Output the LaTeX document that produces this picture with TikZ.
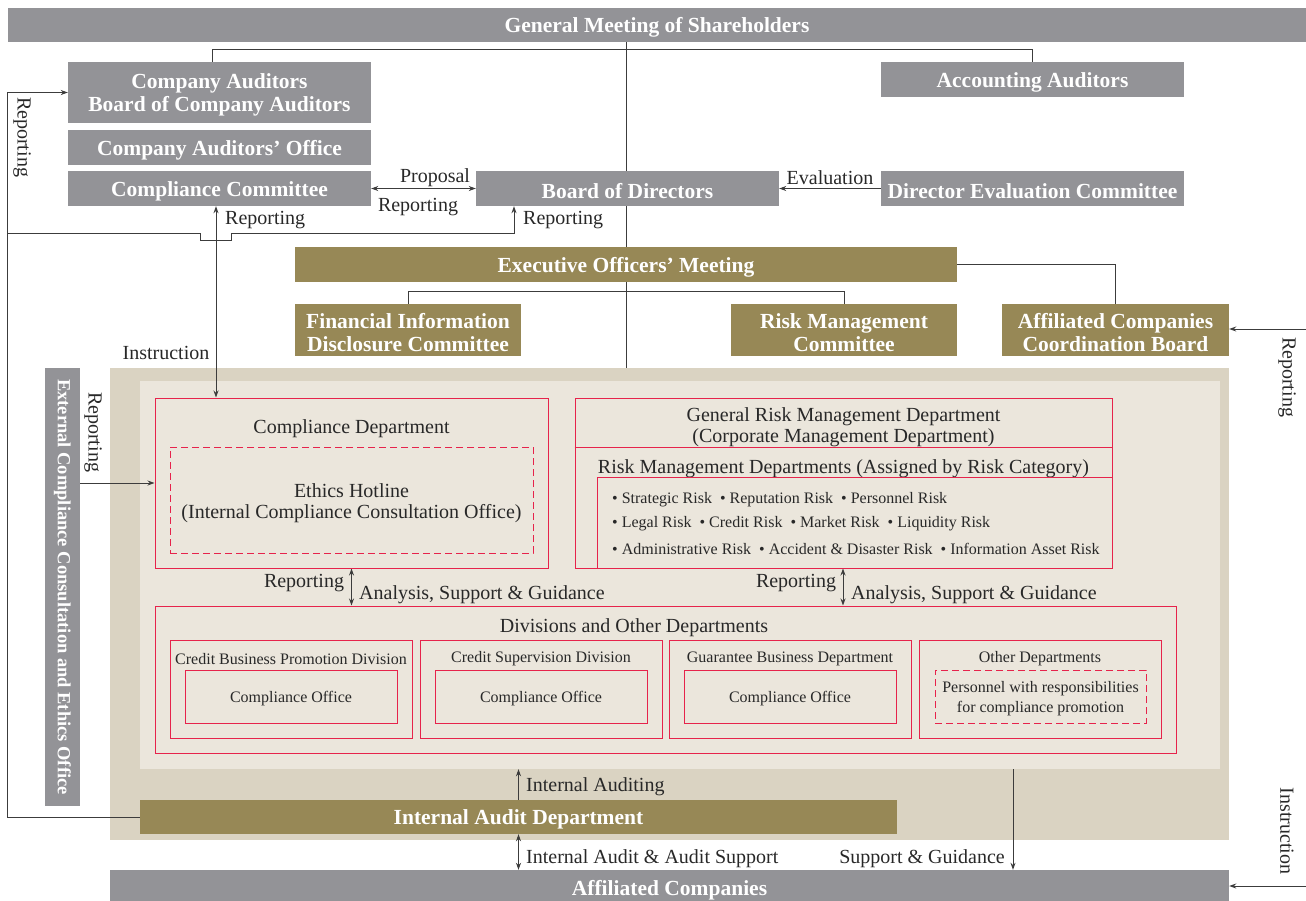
\documentclass[tikz,border=0pt]{standalone}
\usepackage{fontspec}
\setmainfont{Liberation Serif}
\usetikzlibrary{arrows.meta,calc}
\pgfdeclarelayer{back}\pgfdeclarelayer{mid}
\pgfsetlayers{back,mid,main}
\definecolor{boxgray}{RGB}{147,147,151}
\definecolor{olive}{RGB}{151,136,86}
\definecolor{beigeO}{RGB}{218,211,194}
\definecolor{beigeI}{RGB}{235,230,220}
\definecolor{pinkred}{RGB}{230,35,75}
\definecolor{linec}{RGB}{60,60,60}
\definecolor{txt}{RGB}{40,40,40}
\tikzset{
  >={Stealth[length=7pt,width=5pt]},
  gbox/.style={fill=boxgray,text=white,inner sep=0pt,align=center,font=\fontsize{21.5}{23}\selectfont\bfseries},
  obox/.style={gbox,fill=olive},
  rbox/.style={draw=pinkred,line width=1pt,inner sep=0pt},
  dbox/.style={rbox,dash pattern=on 7pt off 4pt},
  areaO/.style={fill=beigeO,inner sep=0pt},
  areaI/.style={fill=beigeI,inner sep=0pt},
  lblr/.style={font=\fontsize{20}{21}\selectfont,text=txt,inner sep=0pt,align=center},
  lbl/.style={lblr,yshift=-2.5pt},
  sml/.style={font=\fontsize{16}{20.5}\selectfont,text=txt,inner sep=0pt,align=center,yshift=-2pt},
  conn/.style={draw=linec,line width=0.9pt},
}
% box node (named) plus its text, set slightly lower as in the reference
\newcommand\bx[7]{%
  \node[#1,minimum width={#5-#3},minimum height={#6-#4}] (#2) at ({(#3+#5)/2},{(#4+#6)/2}) {};
  \node[#1,fill=none,draw=none,yshift=-2.5pt] at (#2.center) {#7};}
\begin{document}
\begin{tikzpicture}[x=1pt,y=-1pt]
\useasboundingbox (0,0) rectangle (1306,900);
% background areas
\begin{pgfonlayer}{back}
\bx{areaO}{outer}{110}{368}{1229}{840}{}
\bx{areaI}{inner}{140}{381}{1220}{769}{}
\end{pgfonlayer}
% top boxes
\bx{gbox}{gms}{8}{8}{1306}{42}{General Meeting of Shareholders}
\bx{gbox}{ca}{68}{62}{371}{123}{Company Auditors\\Board of Company Auditors}
\bx{gbox}{cao}{68}{130}{371}{165}{Company Auditors’ Office}
\bx{gbox}{cc}{68}{171}{371}{206}{Compliance Committee}
\bx{gbox}{aa}{881}{62}{1184}{97}{Accounting Auditors}
\bx{gbox}{bod}{476}{171}{779}{206}{Board of Directors}
\bx{gbox}{dec}{881}{171}{1184}{206}{Director Evaluation Committee}
\bx{obox}{eom}{295}{247}{957}{282}{Executive Officers’ Meeting}
\bx{obox}{fidc}{295}{304}{521}{356}{Financial Information\\Disclosure Committee}
\bx{obox}{rmc}{731}{304}{957}{356}{Risk Management\\Committee}
\bx{obox}{accb}{1002}{304}{1229}{356}{Affiliated Companies\\Coordination Board}
\node[gbox,font=\fontsize{18.5}{21}\selectfont\bfseries,rotate=-90,minimum width=438,minimum height=35] (ext) at (62.5,587) {External Compliance Consultation and Ethics Office};
% compliance department
\bx{rbox}{cd}{155}{398}{548}{568}{}
\node[lbl] (cdt) at (351.5,426) {Compliance Department};
\bx{dbox}{hot}{170}{447}{533}{553}{}
\node[lbl] (hott) at (351.5,501) {Ethics Hotline\\(Internal Compliance Consultation Office)};
% risk management
\bx{rbox}{grm}{575}{398}{1112}{568}{}
\draw[draw=pinkred,line width=1pt] (grm.west |- 0,447) -- (grm.east |- 0,447);
\node[lbl] (grmt) at (843.5,425) {General Risk Management Department\\(Corporate Management Department)};
\node[lbl] (rmdt) at (843.5,466) {Risk Management Departments (Assigned by Risk Category)};
\bx{rbox}{risks}{597}{477}{1112}{568}{}
\node[sml,anchor=west] (r1) at (612,498) {• Strategic Risk\ \ • Reputation Risk\ \ • Personnel Risk};
\node[sml,anchor=west] (r2) at (612,522) {• Legal Risk\ \ • Credit Risk\ \ • Market Risk\ \ • Liquidity Risk};
\node[sml,anchor=west] (r3) at (612,547) {• Administrative Risk\ \ • Accident \& Disaster Risk\ \ • Information Asset Risk};
% divisions
\bx{rbox}{div}{155}{606}{1176}{753}{}
\node[lbl] (divt) at (634,625) {Divisions and Other Departments};
\bx{rbox}{s1}{170}{640}{412}{738}{}
\bx{rbox}{s2}{420}{640}{662}{738}{}
\bx{rbox}{s3}{669}{640}{911}{738}{}
\bx{rbox}{s4}{919}{640}{1161}{738}{}
\node[sml] (s1t) at (291,657) {Credit Business Promotion Division};
\node[sml] (s2t) at (541,657) {Credit Supervision Division};
\node[sml] (s3t) at (790,657) {Guarantee Business Department};
\node[sml] (s4t) at (1040,657) {Other Departments};
\bx{rbox}{o1}{185}{670}{397}{723}{}
\bx{rbox}{o2}{435}{670}{647}{723}{}
\bx{rbox}{o3}{684}{670}{896}{723}{}
\bx{dbox}{o4}{935}{670}{1146}{723}{}
\node[sml] at (o1.center) {Compliance Office};
\node[sml] at (o2.center) {Compliance Office};
\node[sml] at (o3.center) {Compliance Office};
\node[sml] at (o4.center) {Personnel with responsibilities\\for compliance promotion};
% audit and affiliated
\bx{obox}{iad}{140}{800}{897}{834}{Internal Audit Department}
\bx{gbox}{ac}{110}{870}{1229}{906}{Affiliated Companies}
% coordinates
\coordinate (L1) at (8,233);
\coordinate (ix) at (216,0);
\coordinate (otop) at (626,368);
\coordinate (rr) at (1306,329);
\coordinate (ir) at (1306,886);
\coordinate (er) at (80,483);
\coordinate (sg) at (1013,769);
% connectors
\begin{pgfonlayer}{mid}
\draw[conn] (gms.south -| otop) -- (otop);
\draw[conn] ([xshift=-7.5pt]ca.north) -- ++(0,-12) -| (aa.north);
\draw[conn,<->] (cc.east) -- (bod.west);
\draw[conn,->] (dec.west) -- (bod.east);
\draw[conn,->] (iad.west) -| ($(ca.west)+(-60,0)$) -- (ca.west);
\draw[conn,->] (L1) -- (200,233) -- (200,240) -- (231,240) -- (231,233) -| ([xshift=-113.5pt]bod.south);
\draw[conn,<->] (cc.south -| ix) -- (cd.north -| ix);
\draw[conn] (eom.east) -| (accb.north);
\draw[conn] (fidc.north) -- ++(0,-12) -| (rmc.north);
\draw[conn,->] (rr) -- (accb.east |- rr);
\draw[conn,->] (er) -- (cd.west |- er);
\draw[conn,<->] (cd.south) -- (cd.south |- div.north);
\draw[conn,<->] ([xshift=-0.5pt]grm.south) -- ([xshift=-0.5pt]grm.south |- div.north);
\draw[conn,->] (iad.north) -- (iad.north |- inner.south);
\draw[conn,<->] (iad.south) -- (iad.south |- ac.north);
\draw[conn,->] (sg) -- (sg |- ac.north);
\draw[conn,->] (ir) -- (ir -| ac.east);
\end{pgfonlayer}
% labels
\node[lblr,rotate=-90] at (22,137) {Reporting};
\node[lbl] at (435,175) {Proposal};
\node[lbl] at (418,205) {Reporting};
\node[lbl] at (830,175) {Evaluation};
\node[lbl,anchor=west] at (225,218) {Reporting};
\node[lbl,anchor=west] at (523,218) {Reporting};
\node[lbl] at (166,350) {Instruction};
\node[lblr,rotate=-90] at (1287,377) {Reporting};
\node[lblr,rotate=-90] at (93,432) {Reporting};
\node[lbl] at (304,581) {Reporting};
\node[lbl,anchor=west] at (359,592) {Analysis, Support \& Guidance};
\node[lbl] at (796,581) {Reporting};
\node[lbl,anchor=west] at (851,592) {Analysis, Support \& Guidance};
\node[lbl,anchor=west] at (526,784) {Internal Auditing};
\node[lbl,anchor=west] at (526,856) {Internal Audit \& Audit Support};
\node[lbl,anchor=east] at (1005,856) {Support \& Guidance};
\node[lblr,rotate=-90] at (1287,831) {Instruction};
\end{tikzpicture}
\end{document}
